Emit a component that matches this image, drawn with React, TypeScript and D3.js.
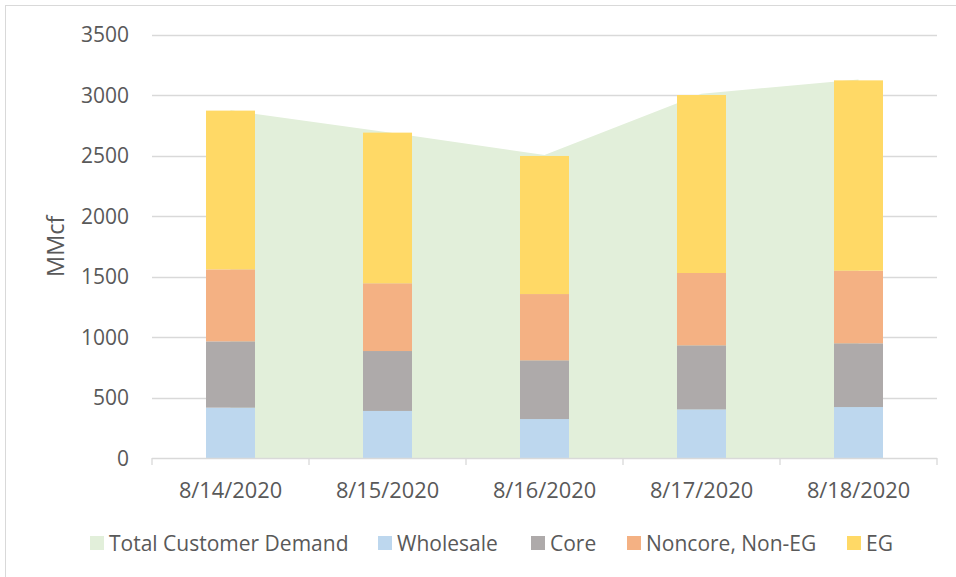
import React from "react";
import * as d3 from "d3";

const categories = ["8/14/2020", "8/15/2020", "8/16/2020", "8/17/2020", "8/18/2020"];
const totalDemand = [2873, 2692, 2505, 3010, 3128];
const wholesale = [416, 389, 322, 402, 421];
const core = [548, 495, 485, 529, 527];
const noncore = [595, 560, 548, 598, 600];
const eg = [1312, 1245, 1141, 1471, 1573];
const yTicks = [0, 500, 1000, 1500, 2000, 2500, 3000, 3500];
const seriesNames = ["Wholesale", "Core", "Noncore, Non-EG", "EG"];
const legendNames = ["Total Customer Demand", "Wholesale", "Core", "Noncore, Non-EG", "EG"];

const W = 956;
const H = 577;
const FONT = "'Open Sans', sans-serif";
const TEXT = "#595959";
const GRID = "#D9D9D9";
const COLORS: Record<string, string> = {
  "Total Customer Demand": "#E2EFDA",
  Wholesale: "#BDD7EE",
  Core: "#AEAAAA",
  "Noncore, Non-EG": "#F4B183",
  EG: "#FFD966",
};

export default function App() {
  const left = 152;
  const right = 937;
  const top = 34.5;
  const bottom = 458;

  const x = d3.scaleBand<string>().domain(categories).range([left, right]).paddingInner(0).paddingOuter(0);
  const y = d3.scaleLinear().domain([0, 3500]).range([bottom, top]);
  const bw = x.bandwidth();
  const barW = 49;
  const cx = (c: string) => (x(c) ?? 0) + bw / 2;

  const rows = categories.map((c, i) => ({
    cat: c,
    Wholesale: wholesale[i],
    Core: core[i],
    "Noncore, Non-EG": noncore[i],
    EG: eg[i],
  }));
  const stacked = d3.stack<any>().keys(seriesNames)(rows);

  const area = d3
    .area<number>()
    .x((_, i) => cx(categories[i]))
    .y0(y(0))
    .y1((d) => y(d));

  const boundaries = [...categories.map((c) => x(c) ?? 0), right];
  const legendX = [90, 378, 531, 627, 847];

  return (
    <div style={{ position: "absolute", left: 0, top: 0 }}>
      <svg width={W} height={H} style={{ display: "block", background: "#fff" }}>
        {/* frame */}
        <line x1={5} x2={W} y1={5.5} y2={5.5} stroke={GRID} strokeWidth={1} />
        <line x1={5.5} x2={5.5} y1={5} y2={H} stroke={GRID} strokeWidth={1} />

        {/* gridlines */}
        {yTicks.slice(1).map((t) => (
          <line key={t} x1={left} x2={right} y1={Math.round(y(t)) + 0.5} y2={Math.round(y(t)) + 0.5} stroke={GRID} strokeWidth={1.3} />
        ))}

        {/* area */}
        <path d={area(totalDemand) ?? ""} fill={COLORS["Total Customer Demand"]} />

        {/* bars */}
        {stacked.map((s) => (
          <g key={s.key} fill={COLORS[s.key]}>
            {s.map((d, i) => (
              <rect key={i} x={cx(categories[i]) - barW / 2} width={barW} y={y(d[1])} height={y(d[0]) - y(d[1])} />
            ))}
          </g>
        ))}

        {/* x axis */}
        <line x1={left} x2={right} y1={bottom + 0.5} y2={bottom + 0.5} stroke={GRID} strokeWidth={1.3} />
        {boundaries.map((b, i) => (
          <line key={i} x1={b} x2={b} y1={bottom} y2={bottom + 7} stroke={GRID} strokeWidth={1.3} />
        ))}

        {/* y tick labels */}
        {yTicks.map((t) => (
          <text key={t} x={129} y={y(t)} dy="0.36em" textAnchor="end" fontFamily={FONT} fontSize={21} fill={TEXT}>
            {t}
          </text>
        ))}

        {/* x tick labels */}
        {categories.map((c) => (
          <text key={c} x={cx(c)} y={498} textAnchor="middle" fontFamily={FONT} fontSize={21.8} fill={TEXT}>
            {c}
          </text>
        ))}

        {/* y axis title */}
        <text transform={`translate(64,${(top + bottom) / 2}) rotate(-90)`} textAnchor="middle" fontFamily={FONT} fontSize={23.5} fill={TEXT}>
          MMcf
        </text>

        {/* legend */}
        {legendNames.map((n, i) => (
          <g key={n} transform={`translate(${legendX[i]},0)`}>
            <rect x={0} y={536} width={14} height={14} fill={COLORS[n]} />
            <text x={19} y={550.5} fontFamily={FONT} fontSize={21} fill={TEXT}>
              {n}
            </text>
          </g>
        ))}
      </svg>
    </div>
  );
}
